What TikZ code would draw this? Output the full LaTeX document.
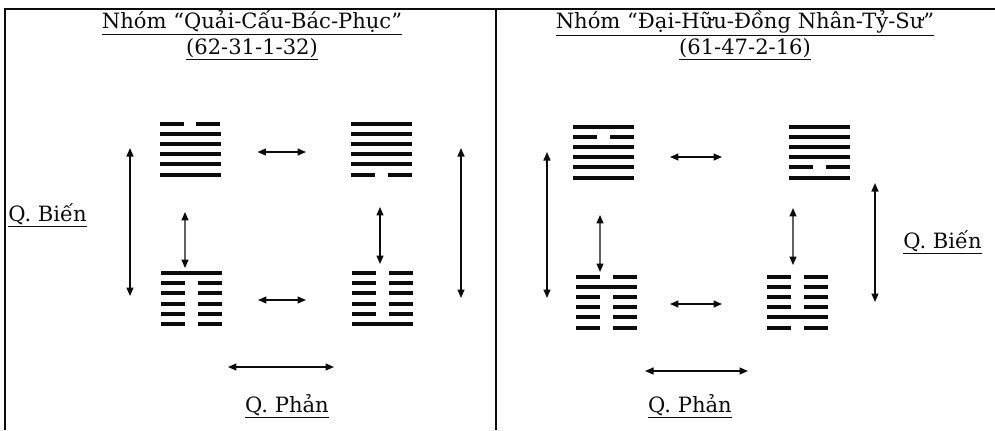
\documentclass[tikz,border=0pt]{standalone}
\usepackage{fontspec}
\setmainfont{DejaVu Serif}
\usepackage{tikz}
\usetikzlibrary{arrows.meta, positioning, calc}
\definecolor{inkblack}{RGB}{12,12,12}
\tikzset{
  hexbox/.style={rectangle, minimum width=1.22cm, minimum height=1.02cm,
    inner sep=0pt, outer sep=0pt},
  yao/.style={line width=0.08cm, color=inkblack},
  dblarrow/.style={{Triangle[length=0.17cm, width=0.14cm]}-{Triangle[length=0.17cm, width=0.14cm]},
    line width=0.8pt, color=inkblack},
  frame/.style={line width=0.8pt, color=inkblack},
  caption/.style={font=\fontsize{12}{14}\selectfont, inner sep=0pt,
    anchor=base, color=inkblack}
}
% one hexagram: name, centre, lines from top (1 = solid, 0 = broken)
\newcommand{\hexgram}[3]{%
  \node[hexbox] (#1) at (#2) {};
  \foreach \yao [count=\i] in {#3} {
    \ifnum\yao=1
      \draw[yao] ($(#1.north west)+(0,{(\i-1)*10.2})$) -- ++(61,0);
    \else
      \draw[yao] ($(#1.north west)+(0,{(\i-1)*10.2})$) -- ++(24,0);
      \draw[yao] ($(#1.north east)+(0,{(\i-1)*10.2})$) -- ++(-24,0);
    \fi
  }
}

\begin{document}
\begin{tikzpicture}[x=0.02cm, y=-0.02cm]
  \useasboundingbox (0,0) rectangle (995,430);

  % Frame and divider
  \draw[frame] (5,430) -- (5,9) -- (995,9);
  \draw[frame] (496,9) -- (496,430);

  % Titles
  \node[caption] (titleL) at (252,28) {\underline{Nhóm “Quải-Cấu-Bác-Phục”}};
  \node[caption] (codeL) at (252,54) {\underline{(62-31-1-32)}};
  \node[caption] (titleR) at (745,28) {\underline{Nhóm “Đại-Hữu-Đồng Nhân-Tỷ-Sư”}};
  \node[caption] (codeR) at (745,54) {\underline{(61-47-2-16)}};

  % Left group hexagrams
  \hexgram{quai}{190,149}{0,1,1,1,1,1}
  \hexgram{cau}{381.5,149}{1,1,1,1,1,0}
  \hexgram{bac}{191.5,298.5}{1,0,0,0,0,0}
  \hexgram{phuc}{382.5,298.5}{0,0,0,0,0,1}

  % Right group hexagrams
  \hexgram{daihuu}{603.5,152}{1,0,1,1,1,1}
  \hexgram{dongnhan}{819.5,152}{1,1,1,1,0,1}
  \hexgram{ty}{606.5,302}{0,1,0,0,0,0}
  \hexgram{su}{797.5,302}{0,0,0,0,1,0}

  % Inner arrows, left group
  \draw[dblarrow, shorten <=0.74cm, shorten >=0.9cm] ([yshift=-0.06cm]quai.east) -- ([yshift=-0.06cm]cau.west);
  \draw[dblarrow, shorten <=0.72cm, shorten >=0.92cm] ([yshift=-0.03cm]bac.east) -- ([yshift=-0.03cm]phuc.west);
  \draw[dblarrow, shorten <=0.75cm, shorten >=0.1cm] ([xshift=-0.1cm]quai.south) -- ([xshift=-0.13cm]bac.north);
  \draw[dblarrow, shorten <=0.65cm, shorten >=0.18cm] ([xshift=-0.03cm]cau.south) -- ([xshift=-0.05cm]phuc.north);

  % Inner arrows, right group
  \draw[dblarrow, shorten <=0.72cm, shorten >=1.34cm] ([yshift=-0.1cm]daihuu.east) -- ([yshift=-0.1cm]dongnhan.west);
  \draw[dblarrow, shorten <=0.66cm, shorten >=0.9cm] ([yshift=-0.04cm]ty.east) -- ([yshift=-0.04cm]su.west);
  \draw[dblarrow, shorten <=0.75cm, shorten >=0.09cm] ([xshift=-0.07cm]daihuu.south) -- ([xshift=-0.13cm]ty.north);
  \draw[dblarrow, shorten <=0.61cm, shorten >=0.23cm] ([xshift=-0.53cm]dongnhan.south) -- ([xshift=-0.09cm]su.north);

  % Outer arrows
  \coordinate (bienLa) at (130,148);
  \coordinate (bienLb) at (130,296);
  \coordinate (bienLc) at (461,148);
  \coordinate (bienLd) at (461,298);
  \coordinate (bienRa) at (547,152);
  \coordinate (bienRb) at (547,298);
  \coordinate (bienRc) at (875,183);
  \coordinate (bienRd) at (875,302);
  \coordinate (phanLa) at (228,367);
  \coordinate (phanLb) at (334,367);
  \coordinate (phanRa) at (645,371);
  \coordinate (phanRb) at (748,371);
  \draw[dblarrow] (bienLa) -- (bienLb);
  \draw[dblarrow] (bienLc) -- (bienLd);
  \draw[dblarrow] (bienRa) -- (bienRb);
  \draw[dblarrow] (bienRc) -- (bienRd);
  \draw[dblarrow] (phanLa) -- (phanLb);
  \draw[dblarrow] (phanRa) -- (phanRb);

  % Labels
  \node[caption, anchor=base west] (bienL) at (8,221) {\underline{Q. Biến}};
  \node[caption, anchor=base west] (bienR) at (903,248) {\underline{Q. Biến}};
  \node[caption] (phanL) at (287,412) {\underline{Q. Phản}};
  \node[caption] (phanR) at (690,412) {\underline{Q. Phản}};
\end{tikzpicture}
\end{document}
